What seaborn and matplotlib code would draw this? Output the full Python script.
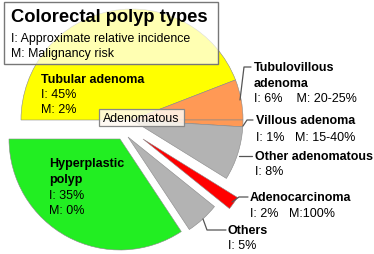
import matplotlib
matplotlib.use("Agg")
import matplotlib.pyplot as plt
import seaborn as sns
from matplotlib.patches import Rectangle
from matplotlib.lines import Line2D

# ---- data ----
categories = ["Tubular adenoma", "Tubulovillous adenoma", "Villous adenoma",
              "Other adenomatous", "Adenocarcinoma", "Others", "Hyperplastic polyp"]
incidence = [45, 6, 1, 8, 2, 5, 35]
incidence_labels = ["I: 45%", "I: 6%    M: 20-25%", "I: 1%   M: 15-40%",
                    "I: 8%", "I: 2%   M:100%", "I: 5%", "I: 35%"]
malignancy_labels = ["M: 2%", "", "", "", "", "", "M: 0%"]
colors = ["#FFFF00", "#FF9955", "#FF9955", "#B3B3B3", "#FF0000", "#B3B3B3", "#22EE22"]
# slice displacement (pixels, right / down) used for the "exploded" slices
shift_px = [(0, 0), (0, 0), (0, 0), (0, 0), (11, 19), (-4, 17), (-12, 19)]

sns.set_theme(style="white")
plt.rcParams["font.family"] = ["Liberation Sans", "DejaVu Sans"]

W, H = 374, 255
fig = plt.figure(figsize=(W / 100, H / 100), dpi=100)
ax = fig.add_axes([0, 0, 1, 1])

R = 111.0
cx, cy = 132.0, 121.0
wedges, _ = ax.pie(incidence, colors=colors, startangle=180,
                   counterclock=False, radius=1,
                   wedgeprops=dict(edgecolor="#888888", linewidth=0.4))
for w, (dx, dy) in zip(wedges, shift_px):
    w.set_center((dx / R, -dy / R))
ax.set_aspect("auto")
ax.set_xlim(-cx / R, (W - cx) / R)
ax.set_ylim(-(H - cy) / R, cy / R)
ax.axis("off")


def fx(x):
    return x / W


def fy(y):
    return 1 - y / H


def txt(x, y, s, bold=False, size=9):
    fig.text(fx(x), fy(y), s, ha="left", va="center", fontsize=size,
             fontweight="bold" if bold else "normal", color="black", zorder=5)


def line(xs, ys):
    fig.add_artist(Line2D([fx(v) for v in xs], [fy(v) for v in ys],
                          color="#555555", lw=0.9, zorder=4))


# title box
fig.add_artist(Rectangle((fx(4), fy(65)), (218 - 4) / W, (65 - 3) / H,
                         transform=fig.transFigure, facecolor=(1, 1, 1, 0.7),
                         edgecolor="#777777", lw=1, zorder=3))
txt(11, 18, "Colorectal polyp types", bold=True, size=13.2)
txt(11, 39, "I: Approximate relative incidence", size=8.9)
txt(11, 54, "M: Malignancy risk", size=8.9)

# Adenomatous box
fig.add_artist(Rectangle((fx(99), fy(127)), (184 - 99) / W, (127 - 110) / H,
                         transform=fig.transFigure, facecolor=(1, 0.98, 0.95, 0.85),
                         edgecolor="#888888", lw=0.9, zorder=3))
txt(103, 118.5, "Adenomatous", size=8.9)

# Tubular
txt(41, 80, "Tubular adenoma", bold=True)
txt(41, 95, incidence_labels[0])
txt(41, 110, malignancy_labels[0])

# Tubulovillous
txt(254, 68, "Tubulovillous", bold=True)
txt(254, 84, "adenoma", bold=True)
txt(254, 99, incidence_labels[1])
line([251, 244, 240], [68, 68, 101])

# Villous
txt(256, 121, "Villous adenoma", bold=True)
txt(256, 138, incidence_labels[2])
line([253, 247, 243], [121, 121, 127])

# Other adenomatous
txt(255, 157, "Other adenomatous", bold=True)
txt(255, 172, incidence_labels[3])
line([252, 239], [157, 157])

# Adenocarcinoma
txt(250, 198, "Adenocarcinoma", bold=True)
txt(250, 214, incidence_labels[4])
line([248, 239, 232], [198, 198, 203])

# Others
txt(228, 231, "Others", bold=True)
txt(228, 246, incidence_labels[5])
line([226, 207, 203], [231, 231, 220])

# Hyperplastic
txt(49, 164, "Hyperplastic", bold=True)
txt(49, 180, "polyp", bold=True)
txt(49, 196, incidence_labels[6])
txt(49, 211, malignancy_labels[6])

fig.savefig("out.png", dpi=100)
